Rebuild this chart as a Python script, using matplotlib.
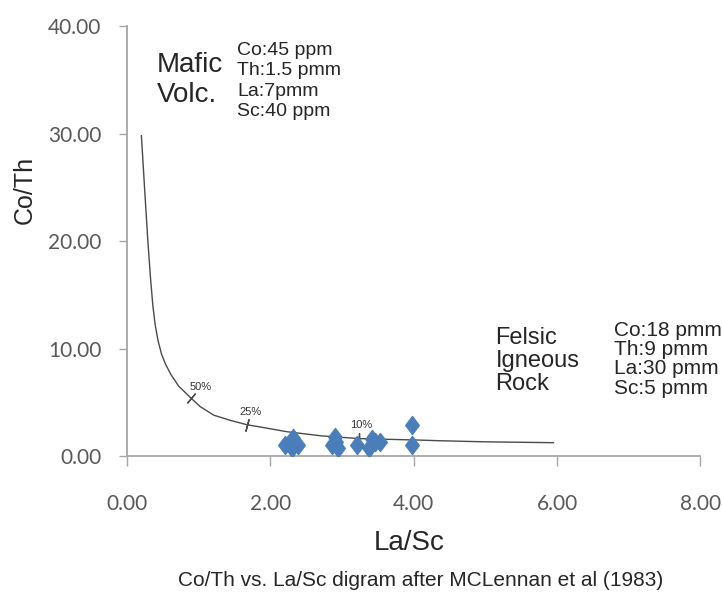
import matplotlib
matplotlib.use("Agg")
import matplotlib.pyplot as plt
from matplotlib.path import Path

# ---- data ----
curve_x = [0.20, 0.25, 0.29, 0.33, 0.36, 0.39, 0.43, 0.48, 0.54, 0.61, 0.72, 0.89, 1.02, 1.21, 1.45, 1.68, 1.86, 2.23, 2.72, 3.24, 4.09, 4.37, 5.00, 5.95]
curve_y = [29.8, 24.3, 20.0, 16.3, 14.0, 12.3, 10.8, 9.5, 8.5, 7.6, 6.5, 5.4, 4.6, 3.8, 3.3, 2.9, 2.7, 2.26, 1.87, 1.62, 1.48, 1.42, 1.32, 1.24]

mix_labels = ["50%", "25%", "10%"]
mix_x = [0.89, 1.68, 3.24]
mix_y = [5.4, 2.9, 1.6]
mix_angle = [-40, -15, 0]

sample_x = [2.21, 2.32, 2.39, 2.30, 2.90, 2.86, 2.95, 2.92, 3.21, 3.37, 3.46, 3.53, 3.42, 3.98, 3.98]
sample_y = [1.0, 1.64, 1.0, 0.71, 1.8, 1.0, 0.71, 1.3, 1.0, 0.71, 1.33, 1.33, 1.6, 2.9, 1.0]

x_ticks = [0, 2, 4, 6, 8]
y_ticks = [0, 10, 20, 30, 40]

mafic_title = "Mafic\nVolc."
mafic_comp = "Co:45 ppm\nTh:1.5 pmm\nLa:7pmm\nSc:40 ppm"
felsic_title = "Felsic\nIgneous\nRock"
felsic_comp = "Co:18 pmm\nTh:9 pmm\nLa:30 pmm\nSc:5 pmm"

x_label = "La/Sc"
y_label = "Co/Th"
caption = "Co/Th vs. La/Sc digram after MCLennan et al (1983)"

# ---- figure ----
plt.rcParams['font.family'] = ['Liberation Sans', 'DejaVu Sans']
fig = plt.figure(figsize=(7.22, 5.93), dpi=100)
ax = fig.add_axes([0.176, 0.231, 0.794, 0.725])

ax.plot(curve_x, curve_y, color='#4a4a4a', lw=1.0, zorder=2)

for lab, mx, my, ang in zip(mix_labels, mix_x, mix_y, mix_angle):
    ax.plot([mx], [my], marker=(2, 2, ang), ms=9, mew=1.0, color='#4a4a4a', zorder=3)

ax.text(1.02, 6.4, mix_labels[0], fontsize=8, color='#333333', ha='center', va='center')
ax.text(1.72, 4.1, mix_labels[1], fontsize=8, color='#333333', ha='center', va='center')
ax.text(3.27, 2.9, mix_labels[2], fontsize=8, color='#333333', ha='center', va='center')

diamond = Path([(0, 1), (0.75, 0), (0, -1), (-0.75, 0), (0, 1)],
               [Path.MOVETO, Path.LINETO, Path.LINETO, Path.LINETO, Path.CLOSEPOLY])
ax.plot(sample_x, sample_y, linestyle='none', marker=diamond, ms=13,
        color='#4a7ebb', mec='#4a7ebb', zorder=4)

ax.set_xlim(0, 8)
ax.set_ylim(0, 40)
ax.set_xticks(x_ticks)
ax.set_yticks(y_ticks)
ax.set_xticklabels([f"{v:.2f}" for v in x_ticks])
ax.set_yticklabels([f"{v:.2f}" for v in y_ticks])

for s in ['top', 'right']:
    ax.spines[s].set_visible(False)
for s in ['left', 'bottom']:
    ax.spines[s].set_color('#a6a6a6')
    ax.spines[s].set_linewidth(1.3)

tick_font = ['Lato', 'DejaVu Sans']
ax.tick_params(axis='x', direction='out', length=7, width=1.0, color='#a6a6a6', pad=20,
               labelsize=15, labelcolor='#595959')
ax.tick_params(axis='y', direction='out', length=5.5, width=1.0, color='#a6a6a6', pad=13,
               labelsize=15, labelcolor='#595959')
for t in ax.get_xticklabels() + ax.get_yticklabels():
    t.set_family(tick_font)

ax.text(0.42, 35.0, mafic_title, fontsize=20, color='#262626', ha='left', va='center', linespacing=1.2)
ax.text(1.54, 34.9, mafic_comp, fontsize=14, color='#262626', ha='left', va='center', linespacing=1.25)
ax.text(5.14, 8.8, felsic_title, fontsize=17, color='#262626', ha='left', va='center', linespacing=1.06)
ax.text(6.79, 9.0, felsic_comp, fontsize=15, color='#262626', ha='left', va='center', linespacing=1.02)

fig.text(25 / 722, 1 - 190 / 593, y_label, rotation=90, fontsize=18, color='#262626', ha='center', va='center')
fig.text(409 / 722, 1 - 543 / 593, x_label, fontsize=20, color='#262626', ha='center', va='center')
fig.text(421 / 722, 1 - 580 / 593, caption, fontsize=15, color='#262626', ha='center', va='center')

fig.savefig("out.png", dpi=100)
